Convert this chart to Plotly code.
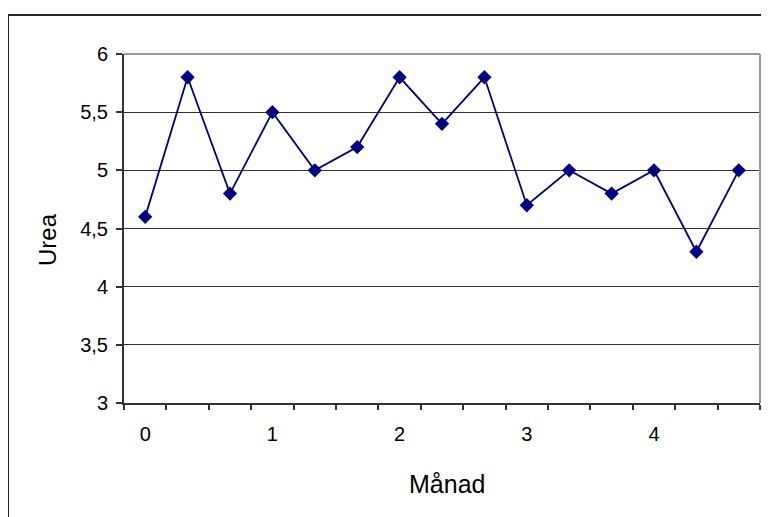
import plotly.graph_objects as go

month_labels = ["0", "1", "2", "3", "4"]
label_positions = [0, 3, 6, 9, 12]
urea = [4.6, 5.8, 4.8, 5.5, 5.0, 5.2, 5.8, 5.4, 5.8, 4.7, 5.0, 4.8, 5.0, 4.3, 5.0]
y_ticks = [3, 3.5, 4, 4.5, 5, 5.5, 6]
y_tick_labels = ["3", "3,5", "4", "4,5", "5", "5,5", "6"]

idx = list(range(len(urea)))
boundaries = [i - 0.5 for i in range(len(urea) + 1)]

# page body has an 8px margin, so compensate
L, T = 124 - 8, 54 - 8
PW, PH = 636, 349
W, H = 769, 517
R = W - L - PW
B = H - T - PH


def px_x(x):
    return (x - 124) / PW


def px_y(y):
    return (403 - y) / PH


fig = go.Figure()
fig.add_trace(go.Scatter(
    x=idx, y=urea, mode="lines+markers",
    line=dict(color="#000080", width=1.8),
    marker=dict(symbol="diamond", size=11, color="#000080"),
    showlegend=False,
))

fig.update_layout(
    width=W, height=H,
    margin=dict(l=L, r=R, t=T, b=B, autoexpand=False),
    paper_bgcolor="white", plot_bgcolor="white",
    font=dict(family="Arial, Liberation Sans, sans-serif", size=20, color="black"),
    xaxis=dict(
        range=[-0.5, len(urea) - 0.5],
        tickvals=label_positions, ticktext=month_labels,
        ticks="", showgrid=False, zeroline=False,
        showline=True, linecolor="#333333", linewidth=2,
        tickfont=dict(size=20), ticklabelstandoff=12,
        minor=dict(tickvals=boundaries, ticks="outside", ticklen=5,
                   tickcolor="#333333", tickwidth=1.5, showgrid=False),
    ),
    yaxis=dict(
        range=[3, 6],
        tickvals=y_ticks, ticktext=y_tick_labels,
        ticks="outside", ticklen=6, tickcolor="#333333", tickwidth=1.5,
        showgrid=True, gridcolor="#333333", gridwidth=1,
        zeroline=False,
        showline=True, linecolor="#333333", linewidth=2,
        tickfont=dict(size=20), ticklabelstandoff=4,
    ),
    annotations=[
        dict(text="Månad", xref="paper", yref="paper",
             x=px_x(447), y=px_y(484), xanchor="center", yanchor="middle",
             showarrow=False, font=dict(size=25)),
        dict(text="Urea", xref="paper", yref="paper", textangle=-90,
             x=px_x(47), y=px_y(240), xanchor="center", yanchor="middle",
             showarrow=False, font=dict(size=24)),
    ],
    shapes=[
        dict(type="line", xref="paper", yref="paper", x0=0, x1=1, y0=1, y1=1,
             line=dict(color="#999999", width=2)),
        dict(type="line", xref="paper", yref="paper", x0=1, x1=1, y0=0, y1=1,
             line=dict(color="#999999", width=2)),
        dict(type="rect", xref="paper", yref="paper",
             x0=px_x(8), x1=px_x(768),
             y0=-0.5, y1=px_y(15),
             line=dict(color="#222222", width=2)),
    ],
)

fig.write_html("out.html")
